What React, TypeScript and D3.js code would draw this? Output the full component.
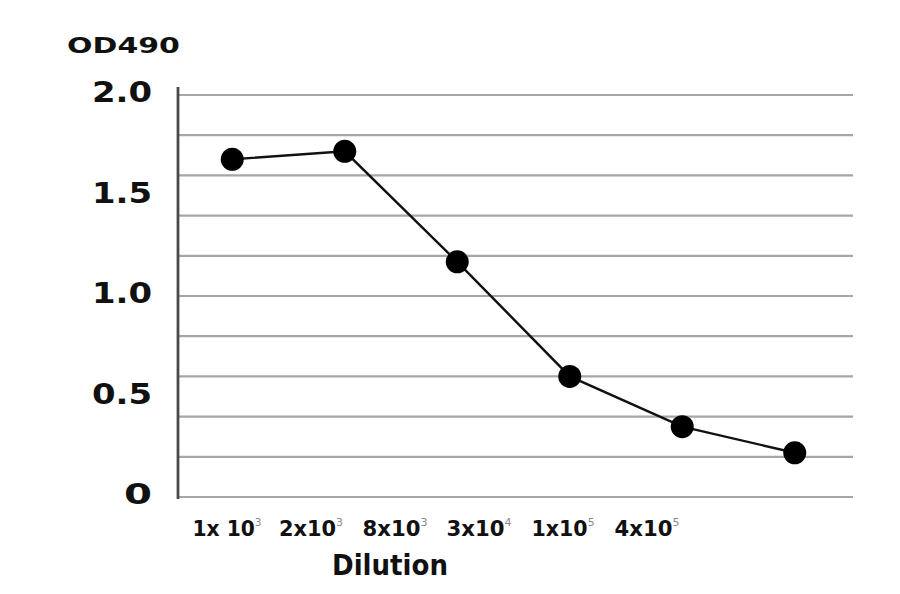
import React from "react";
import * as d3 from "d3";

const categories = ["1x10^3", "2x10^3", "8x10^3", "3x10^4", "1x10^5", "4x10^5"];
const labelMain = ["1x 10", "2x10", "8x10", "3x10", "1x10", "4x10"];
const labelExp = ["3", "3", "3", "4", "5", "5"];
const odValues = [1.68, 1.72, 1.17, 0.6, 0.35, 0.22];
const gridValues = [0, 0.2, 0.4, 0.6, 0.8, 1.0, 1.2, 1.4, 1.6, 1.8, 2.0];
const yTickValues = [0, 0.5, 1.0, 1.5, 2.0];
const yTickLabels = ["0", "0.5", "1.0", "1.5", "2.0"];

export default function App() {
  const W = 900;
  const H = 594;
  const left = 178;
  const right = 853;
  const y = d3.scaleLinear().domain([0, 2]).range([497, 95]);
  const x = d3.scalePoint<string>().domain(categories).range([176, 851]).padding(0.5);
  const xLab = d3.scalePoint<string>().domain(categories).range([227, 647]);
  const line = d3
    .line<number>()
    .x((_, i) => x(categories[i]) as number)
    .y((d) => y(d));
  const font = "'DejaVu Sans', Verdana, sans-serif";
  const labelWidths = [69, 64, 65, 65, 63, 65];
  const yLabelWidths = [28, 60, 60, 60, 60];

  return (
    <svg
      width={W}
      height={H}
      style={{ position: "absolute", left: 0, top: 0, display: "block", background: "#fff" }}
    >
      <rect x={0} y={0} width={W} height={H} fill="#fff" />
      {gridValues.map((v) => (
        <line key={v} x1={left} x2={right} y1={y(v)} y2={y(v)} stroke="#a6a6a6" strokeWidth={2.2} />
      ))}
      <line x1={left} x2={left} y1={87} y2={499} stroke="#4a4a4a" strokeWidth={2.8} />
      <path d={line(odValues) || ""} fill="none" stroke="#111" strokeWidth={2.4} />
      {odValues.map((v, i) => (
        <circle key={i} cx={x(categories[i])} cy={y(v)} r={11.5} fill="#000" />
      ))}
      {yTickValues.map((v, i) => (
        <text
          key={v}
          x={152}
          y={y(v) - 3}
          textAnchor="end"
          dominantBaseline="central"
          fontFamily={font}
          fontWeight="bold"
          fontSize={29}
          fill="#111"
          textLength={yLabelWidths[i]}
          lengthAdjust="spacingAndGlyphs"
        >
          {yTickLabels[i]}
        </text>
      ))}
      <text
        x={67}
        y={53}
        fontFamily={font}
        fontWeight="bold"
        fontSize={21}
        fill="#111"
        textLength={113}
        lengthAdjust="spacingAndGlyphs"
      >
        OD490
      </text>
      {categories.map((c, i) => (
        <text
          key={c}
          x={(xLab(c) as number) - labelWidths[i] / 2}
          y={536}
          fontFamily={font}
          fontWeight="bold"
          fontSize={21}
          fill="#111"
          textLength={labelWidths[i]}
          lengthAdjust="spacingAndGlyphs"
        >
          {labelMain[i]}
          <tspan fontSize={11} fontWeight="normal" fill="#8a8a8a" dy={-10}>
            {labelExp[i]}
          </tspan>
        </text>
      ))}
      <text
        x={390}
        y={575}
        textAnchor="middle"
        fontFamily={font}
        fontWeight="bold"
        fontSize={29}
        fill="#111"
        textLength={116}
        lengthAdjust="spacingAndGlyphs"
      >
        Dilution
      </text>
    </svg>
  );
}
